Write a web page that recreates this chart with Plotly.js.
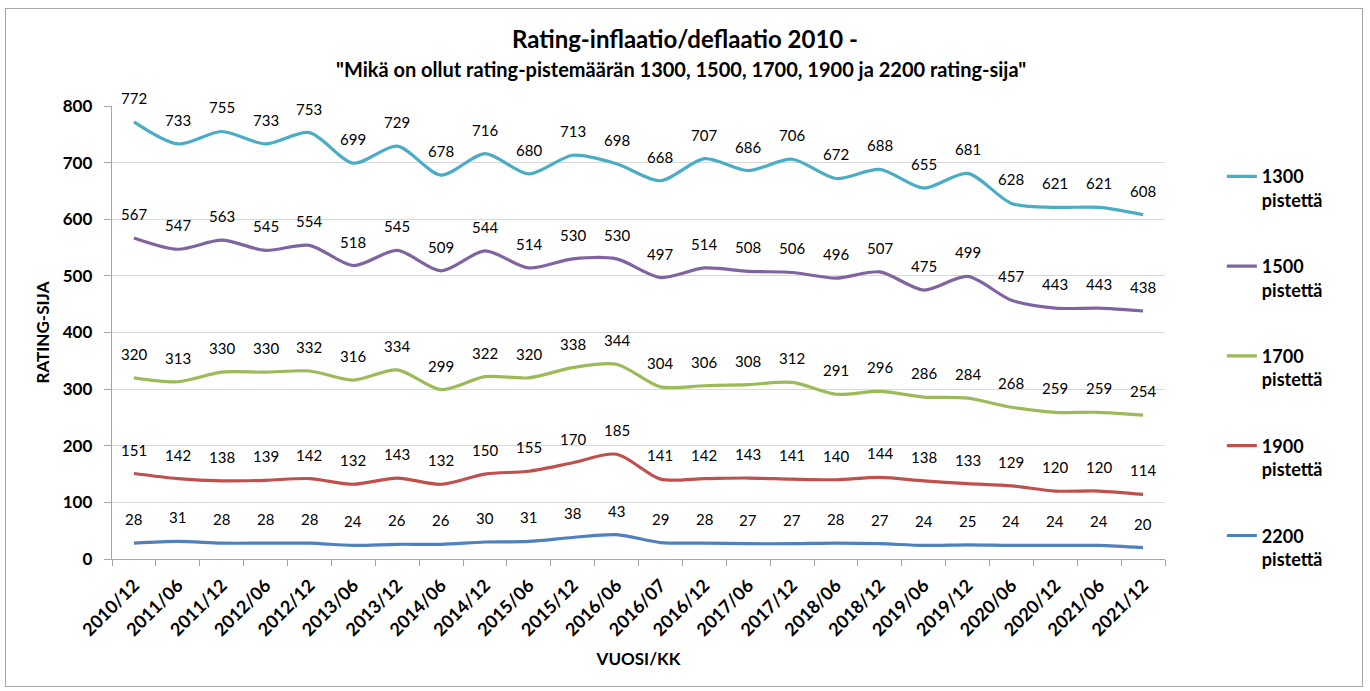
<!DOCTYPE html>
<html>
<head>
<meta charset="utf-8">
<script src="https://cdn.plot.ly/plotly-3.0.1.min.js"></script>
<style>
html,body{margin:0;padding:0;background:#fff;}
#frame{position:absolute;left:5px;top:8px;width:1358px;height:679px;border:1px solid #a6a6a6;box-sizing:border-box;}
#chart{position:absolute;left:0;top:0;width:1370px;height:691px;}
</style>
</head>
<body>
<div id="frame"></div>
<div id="chart"></div>
<script>
const categories = ["2010/12","2011/06","2011/12","2012/06","2012/12","2013/06","2013/12","2014/06","2014/12","2015/06","2015/12","2016/06","2016/07","2016/12","2017/06","2017/12","2018/06","2018/12","2019/06","2019/12","2020/06","2020/12","2021/06","2021/12"];
const s1300 = [772,733,755,733,753,699,729,678,716,680,713,698,668,707,686,706,672,688,655,681,628,621,621,608];
const s1500 = [567,547,563,545,554,518,545,509,544,514,530,530,497,514,508,506,496,507,475,499,457,443,443,438];
const s1700 = [320,313,330,330,332,316,334,299,322,320,338,344,304,306,308,312,291,296,286,284,268,259,259,254];
const s1900 = [151,142,138,139,142,132,143,132,150,155,170,185,141,142,143,141,140,144,138,133,129,120,120,114];
const s2200 = [28,31,28,28,28,24,26,26,30,31,38,43,29,28,27,27,28,27,24,25,24,24,24,20];
const seriesNames = ["1300<br>pistettä","1500<br>pistettä","1700<br>pistettä","1900<br>pistettä","2200<br>pistettä"];
const seriesData = [s1300,s1500,s1700,s1900,s2200];
const colors = ["#4BACC6","#8064A2","#9BBB59","#C0504D","#4F81BD"];

const FONT = "Lato, 'Open Sans', sans-serif";

const traces = seriesData.map((d,i)=>({
  type:"scatter", mode:"lines", x:categories, y:d, name:seriesNames[i],
  legendgroup:"g"+i,
  line:{color:colors[i], width:3.2, shape:"spline", smoothing:0.8},
  hoverinfo:"x+y"
}));

const annotations = [];
seriesData.forEach((d)=>{
  d.forEach((v,j)=>{
    annotations.push({x:categories[j], y:v, xref:"x", yref:"y", text:String(v), showarrow:false, yshift:24,
      font:{family:FONT, size:15, color:"#000"}});
  });
});
annotations.push({xref:"paper", yref:"paper", x:0.54, y:1, yshift:37, xanchor:"center", yanchor:"middle", showarrow:false,
  text:"<b>\"Mikä on ollut rating-pistemäärän 1300, 1500, 1700, 1900 ja 2200 rating-sija\"</b>",
  font:{family:FONT, size:20, color:"#000"}});

const layout = {
  width:1370, height:691,
  paper_bgcolor:"rgba(0,0,0,0)", plot_bgcolor:"rgba(0,0,0,0)",
  margin:{l:112, r:205, t:106, b:132},
  title:{text:"<b>Rating-inflaatio/deflaatio 2010 -</b>", font:{family:FONT, size:24, color:"#000"}, x:0.5, xref:"container", xanchor:"center", y:0.942, yref:"container", yanchor:"middle"},
  xaxis:{type:"category", range:[-0.5,23.5], tickangle:-45, tickson:"boundaries", ticks:"outside", ticklen:6, tickcolor:"#a6a6a6",
    ticklabelstandoff:8,
    showline:true, linecolor:"#a6a6a6", linewidth:1, showgrid:false, zeroline:false,
    tickfont:{family:FONT, size:18, color:"#000", weight:"bold"},
    title:{text:"<b>VUOSI/KK</b>", font:{family:FONT, size:17, color:"#000"}, standoff:14}},
  yaxis:{range:[0,800], dtick:100, ticks:"outside", ticklen:7, tickcolor:"#a6a6a6",
    showline:true, linecolor:"#a6a6a6", linewidth:1, showgrid:true, gridcolor:"#d9d9d9", gridwidth:1, zeroline:false,
    tickfont:{family:FONT, size:17, color:"#000", weight:"bold"}, ticksuffix:"  ",
    title:{text:"<b>RATING-SIJA</b>", font:{family:FONT, size:17, color:"#000"}, standoff:8}},
  showlegend:true,
  legend:{x:1.054, xanchor:"left", y:0.885, yanchor:"top", valign:"top", tracegroupgap:40,
    font:{family:FONT, size:18, color:"#000", weight:"bold"}, bgcolor:"rgba(0,0,0,0)"},
  annotations:annotations
};
Plotly.newPlot("chart", traces, layout, {displayModeBar:false, responsive:false});
</script>
</body>
</html>
